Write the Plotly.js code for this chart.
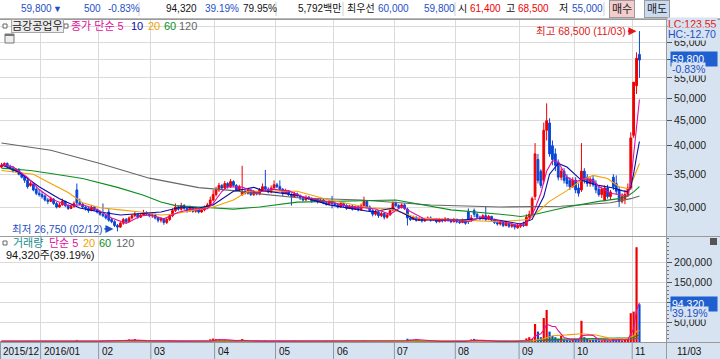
<!DOCTYPE html>
<html><head><meta charset="utf-8">
<script src="https://cdn.plot.ly/plotly-3.0.1.min.js"></script>
<style>html,body{margin:0;padding:0;overflow:hidden;background:#fff}#c{width:720px;height:359px}</style>
</head><body><div id="c"></div>
<script>
// ---------------- DATA (daily, Dec 2015 .. 2016-11-03) ----------------
const open = [
 36200,36600,36800,36300,36000,35600,35800,35000,34600,34000,33200,33400,32600,32000,
 31800,31600,31000,30800,31100,30500,30000,30300,30800,30200,29800,30100,32500,30600,30400,30000,29800,29500,30000,29600,
 29300,29000,28800,29300,28300,28000,27500,27300,27800,28300,28000,28500,28800,29000,28600,28900,29200,29000,
 28800,28900,28500,28200,28400,27900,28300,28800,29500,30000,29700,30200,29800,29500,29900,29400,29700,29300,29600,29900,30300,31000,
 31800,32500,33200,32800,33500,33000,33800,33200,32500,31800,32300,32000,32500,31800,32200,31900,32500,33000,32600,32200,32800,
 33300,33000,32600,32000,32400,31800,31500,31900,31600,31300,31000,31400,31200,30800,31100,30700,31000,30600,30400,30800,
 30500,30300,30000,30500,30200,29800,30100,29700,30000,29600,30200,30800,30000,29500,29000,29300,28800,29100,28600,28900,29500,
 30500,30200,29900,30300,29700,28500,28300,28600,28200,28400,28100,28300,28500,28200,28400,28000,28300,28100,28400,28200,28000,
 28300,28000,27900,28200,29400,28100,29500,29000,28600,28400,28800,28300,28700,28200,27900,27700,27900,27500,27800,27400,27600,27200,
 27400,27600,27500,28600,29000,31500,37500,35500,34000,43000,44500,40000,38500,37000,34500,35500,34500,34000,33000,
 34000,32800,32500,35500,34500,33500,34200,33500,32600,31800,31000,32800,31500,34500,33500,32500,30800,31200,31800,32800,
 42000,53000,61400];
const high = [
 36900,37000,37000,36600,36300,36000,36000,35300,34800,34200,33800,33700,32900,32500,
 32200,31800,31300,31500,31300,30700,30600,31200,30900,30400,30300,30800,33500,31200,30600,30200,30000,30300,30100,29800,
 29500,30500,29000,29800,28500,28200,27700,28000,28500,28500,28700,29000,29300,29100,29100,29600,29400,29200,
 29200,29100,28700,28600,28500,28500,29000,29800,30500,30200,30600,30400,29900,30200,30000,30000,29800,29900,30200,30600,31500,32500,
 33000,33600,33400,33900,33700,34200,34000,33400,33300,36400,32600,32800,32600,32500,32300,32800,33500,35700,32900,33200,34000,
 33600,34000,32800,32700,32500,32000,32200,32100,31800,31500,31700,31600,31400,31300,31200,31200,31300,30800,31000,31600,
 30700,30500,30700,30600,30400,30300,30300,30200,30100,30500,31500,31000,30200,29700,29600,29400,29300,29200,29100,29700,30800,
 30800,30400,30500,30500,29900,28800,28800,28700,28600,28600,28500,28700,28700,28500,28500,28500,28400,28600,28500,28400,28500,
 28400,28200,28400,28300,29800,28900,29800,29200,28800,29000,30000,28900,28800,28400,28100,28100,28000,28000,27900,27800,27700,27700,
 27800,28000,29000,29500,31500,40500,38500,35800,44600,48800,45500,41000,39500,37500,36000,36000,35000,34500,34500,
 34500,33500,40500,36000,35000,34500,34800,34000,33200,33000,33200,33300,32500,35000,34800,33000,32000,32500,33500,42600,
 53900,62000,68500];
const low = [
 36000,36300,36100,35800,35300,35300,34800,34300,33600,32700,33000,32300,31700,31500,
 31200,30800,30400,30700,30300,29800,29900,30200,30000,29600,29700,29900,30200,30200,29800,29500,29200,29400,29400,29100,
 28800,28600,28300,28000,27800,27300,26750,27200,27600,27800,27900,28300,28600,28400,28500,28800,28800,28600,
 28500,28300,27900,27900,27600,27700,28100,28600,29300,29500,29500,29600,29200,29300,29200,29200,29100,29200,29400,29700,30100,30800,
 31500,32200,32500,32500,32700,32800,33000,32300,32300,31600,31800,31800,31600,31600,31700,31700,32300,32400,32000,32000,32700,
 32800,32400,31600,31900,31600,30200,31300,31400,31000,30800,30900,31000,30600,30700,30500,30600,30400,30200,30300,29800,
 30100,29800,29900,30000,29600,29700,29500,29600,29400,29500,30000,29800,29300,28700,28800,28500,28600,28300,28400,28800,29400,
 30000,29700,29800,29600,27500,28100,28200,28000,28100,27900,28000,28200,28000,28100,27800,27900,27900,28000,28000,27800,27900,
 27800,27700,27800,27600,27700,28000,28600,28400,28200,28300,28100,28200,28000,27700,27500,27500,27300,27400,27200,27200,27000,27100,
 27200,27300,27400,28200,28800,31000,33500,32800,33500,41000,38000,36500,35500,34000,34000,33500,33000,32500,32800,
 32000,31500,32200,33500,33000,33000,33000,32000,31500,31300,30800,31200,31000,32500,31800,30000,30500,30400,31500,32500,
 41500,51000,55000];
const close = [
 36500,36800,36300,36000,35500,35800,35000,34500,34000,33000,33500,32500,32000,31800,
 31500,31000,30800,31200,30500,30000,30300,30800,30200,29800,30100,30500,30600,30400,30000,29800,29500,30000,29600,29300,
 29000,28800,28500,28200,28000,27500,27300,27800,28300,28000,28500,28800,29000,28600,28900,29200,29000,28800,
 28900,28500,28200,28400,27900,28300,28800,29500,30000,29700,30200,29800,29500,29900,29400,29700,29300,29600,29900,30300,31000,31800,
 32500,33200,32800,33500,33000,33800,33200,32500,33000,32300,32000,32500,31800,32200,31900,32500,33000,32600,32200,32800,33300,
 33000,32600,32000,32400,31800,31500,31900,31600,31300,31000,31400,31200,30800,31100,30700,31000,30600,30400,30800,30500,
 30300,30000,30500,30200,29800,30100,29700,30000,29600,30200,30800,30000,29500,29000,29300,28800,29100,28600,28900,29500,30500,
 30200,29900,30300,29800,28500,28300,28600,28200,28400,28100,28300,28500,28200,28400,28000,28300,28100,28400,28200,28000,28300,
 28000,27900,28200,27800,28100,28500,29000,28600,28400,28800,28300,28700,28200,27900,27700,27900,27500,27800,27400,27600,27300,27500,
 27600,27500,28600,29000,31200,38500,34000,33200,43000,45000,38500,37500,36500,34500,35500,34000,33500,33000,34000,
 32500,32000,35500,34000,33500,34200,33300,32500,31800,32600,32800,31500,32200,33000,32300,30800,31500,31800,32800,41500,
 53900,60300,59800];
const volume = [
 2100,1800,1500,1700,2000,1300,1900,2200,2500,3000,1600,2000,2400,1800,
 1900,1500,1600,1200,1800,2100,1400,1300,1700,1500,1200,1600,5200,2000,1500,1300,1700,1200,1400,1600,
 1800,2500,1900,4200,1600,2300,3500,1900,2600,2200,6500,5400,7200,3000,2000,1600,1800,1500,
 1400,2000,1700,1500,2200,1600,4200,2800,3000,1800,2100,1500,1300,1600,1200,1500,1400,1700,1900,2400,6800,8500,
 7200,4500,3300,5600,3800,4000,2600,1900,2300,7400,2100,1800,1500,1700,1600,2000,2500,4500,1800,2000,2600,
 1900,3200,1700,1500,1600,2000,3600,1700,1400,1300,1500,1800,1200,1600,1300,1100,1400,3400,1500,1700,
 1800,1200,1500,1300,3600,1400,1200,1600,1100,1500,3900,1800,1400,1700,1200,1300,1500,1100,1400,1900,2600,
 1700,1500,1400,1600,8200,6200,5800,7000,4800,2000,1300,1200,1500,1100,1400,1200,1300,1000,1200,1100,1300,
 1200,1000,1400,1300,1100,6400,7800,5500,3000,1600,4200,1400,1200,1500,1100,1300,1200,1400,1000,1300,1600,1500,
 3000,2500,9000,12000,8000,45000,26000,12000,60000,80000,26000,15000,12000,8000,15000,6000,5000,4000,6000,
 8000,6000,53000,12000,8000,5000,5000,6000,4000,4000,6000,4000,3000,8000,6000,7000,4000,5000,8000,72000,
 76000,237000,94320];

// moving averages (day index, value)
const ma5Idx = [0,4,9,13,18,23,28,33,38,43,48,51,56,61,66,71,73,76,78,83,88,93,99,104,109,114,119,124,129,134,138,141,146,151,156,161,166,171,176,178,180,182,184,186,188,190,192,195,198,201,204,206,210,213,216,217,218,219,220];
const ma5Val = [36600,36220,34460,32560,31000,30220,30320,29640,28500,27780,28760,28900,28380,29260,29760,29760,30520,32260,33000,32960,32080,32620,32360,31460,31040,30660,30160,29920,29720,28980,30080,29360,28320,28280,28200,28000,28660,28160,27640,27520,27600,28300,29800,32000,35500,37300,37000,34500,33800,34200,34000,33000,32000,31800,31600,33700,38300,44100,49700];
const ma10Idx = [0,6,13,20,27,34,41,48,55,62,68,73,80,87,90,102,113,128,135,143,159,167,179,183,187,189,192,195,200,206,211,214,216,217,218,219,220];
const ma10Val = [36600,35300,33000,31200,29860,29300,28900,29150,29300,30000,29850,30300,32300,32900,32400,31700,30300,29300,29850,28230,28230,28500,27700,28300,31500,35000,36800,36200,34000,33200,32800,32400,32200,33000,35100,38000,40800];
const ma20Idx = [0,5,11,17,23,28,34,41,48,55,59,68,73,80,85,102,113,127,134,140,143,149,159,171,182,189,195,200,204,209,213,216,217,218,219,220];
const ma20Val = [35600,35300,35000,33500,32100,30600,29900,29600,29300,28900,29000,29700,30000,31000,32300,32300,31000,29900,29700,29000,28500,28400,28200,28000,28300,30800,32400,34000,34800,34300,33000,32700,33200,34300,35500,36800];
const ma60Idx = [0,10,17,28,40,49,55,60,68,80,89,94,102,136,155,172,179,183,195,206,213,216,218,220];
const ma60Val = [36000,35600,35100,34300,32900,31700,30700,30200,30000,29700,30000,30280,30700,31000,29600,29000,28700,28900,30000,30800,31200,31600,32200,33000];
const ma120Idx = [0,17,34,51,68,80,89,103,124,148,172,193,210,217,220];
const ma120Val = [40500,39160,36800,34350,32860,32400,31900,31300,31000,30280,30000,30100,30600,31200,31600];

const vol5Idx = [0,28,30,34,42,46,50,56,58,62,72,75,78,81,83,86,92,130,140,143,147,152,160,163,166,172,178,181,183,184,186,187,188,190,191,192,194,196,199,200,202,204,206,210,216,217,218,219,220];
const vol5Val = [1800,1500,2300,2200,3600,4800,3500,2000,2500,2200,2500,6000,5400,3500,4500,3000,2300,2000,3000,6300,3500,1300,1300,4500,4000,1300,1400,3000,7000,15300,20600,30200,44600,38600,38600,28200,11200,7200,5800,15400,17400,16600,5600,4200,6000,19200,33000,79600,98000];
const vol20Idx = [0,60,74,80,95,140,145,150,160,166,178,183,187,190,195,200,205,210,215,217,218,219,220];
const vol20Val = [1900,2100,3000,3800,2400,1700,3200,3300,1500,2500,1900,3000,8000,15700,17800,20800,17600,9000,8200,11700,15100,26650,28700];
const vol60Idx = [0,60,90,120,150,178,185,190,200,210,217,220];
const vol60Val = [2000,2100,2900,2300,2200,2100,4200,6600,8300,8900,10500,17200];
const vol120Idx = [0,100,178,190,200,217,220];
const vol120Val = [2200,2300,2300,4300,5200,6300,9600];

// month starts (day index) and their labels
const monthStartIdx = [0,14,34,52,74,95,115,136,157,179,198,218];
const monthLabels = ['2015/12','2016/01','02','03','04','05','06','07','08','09','10','11'];

const priceTicks = [30000,35000,40000,45000,50000,55000,60000,65000,70000];
const volTicks = [50000,100000,150000,200000];

const lowMark = {idx:40, value:26750, date:'02/12'};
const highMark = {idx:220, value:68500, date:'11/03'};
const lastPrice = 59800, lastChange = 500, lastPct = '-0.83%', lastVol = 94320, volPct = '39.19%';
const stockName = '금강공업우';

// ---------------- LAYOUT CONSTANTS ----------------
const W = 720, H = 359;
const PX = x => x / W, PY = y => 1 - y / H;
const PLOT_R = 666, TOPBAR = 18, PRICE_TOP = 19, PRICE_BOT = 236, VOL_BOT = 342;
const DAYPX = 2.9;
const SCALE = 213; // px per ln unit; 30,000 sits at y=207
const yBot = 30000 * Math.exp(-(PRICE_BOT - 207) / SCALE);
const yTop = yBot * Math.exp((PRICE_BOT - PRICE_TOP) / SCALE);
const volTop = (VOL_BOT - PRICE_BOT) / 0.0004;

const RED = '#ee0000', BLUE = '#0a46d8', TXTBLUE = '#1d4fc4', MAG = '#e0109c', NAVY = '#0b0ba8', ORANGE = '#f2a100', GREEN = '#0a8f1c', GRAY = '#666666', TEAL = '#15908a';
const PANEL = '#d7e3f0', GRID = '#dadada', BORDER = '#9a9a9a';
const FONT = "'Liberation Sans', 'Noto Sans CJK KR', sans-serif";

const idx = close.map((_, i) => i);
const fmt = v => v.toLocaleString('en-US');
const bounds = monthStartIdx.slice(1).map(i => i - 0.5);

const traces = [];
traces.push({
  type: 'candlestick', x: idx, open, high, low, close, xaxis: 'x', yaxis: 'y',
  increasing: {line: {color: RED, width: 1}, fillcolor: RED},
  decreasing: {line: {color: BLUE, width: 1}, fillcolor: BLUE},
  whiskerwidth: 0, hoverinfo: 'skip'
});
[[ma120Idx, ma120Val, GRAY], [ma60Idx, ma60Val, GREEN], [ma20Idx, ma20Val, ORANGE], [ma10Idx, ma10Val, NAVY], [ma5Idx, ma5Val, MAG]]
  .forEach(([x, y, c]) => traces.push({type: 'scatter', mode: 'lines', x, y, xaxis: 'x', yaxis: 'y', line: {color: c, width: 1.1}, hoverinfo: 'skip'}));
traces.push({
  type: 'bar', x: idx, y: volume, xaxis: 'x2', yaxis: 'y2', width: 0.75,
  marker: {color: idx.map(i => close[i] >= open[i] ? RED : BLUE), line: {width: 0}}, hoverinfo: 'skip'
});
[[vol120Idx, vol120Val, GRAY], [vol60Idx, vol60Val, GREEN], [vol20Idx, vol20Val, ORANGE], [vol5Idx, vol5Val, MAG]]
  .forEach(([x, y, c]) => traces.push({type: 'scatter', mode: 'lines', x, y, xaxis: 'x2', yaxis: 'y2', line: {color: c, width: 1.1}, hoverinfo: 'skip'}));

const xr = [-0.5, -0.5 + PLOT_R / DAYPX];
const xBase = {range: xr, tickmode: 'array', tickvals: bounds, showticklabels: false, ticks: '', showgrid: true, gridcolor: GRID, gridwidth: 1, zeroline: false, showline: false, fixedrange: true};

function T(x, y, text, color, size, extra) {
  return Object.assign({xref: 'paper', yref: 'paper', x: PX(x), y: PY(y), text, showarrow: false, xanchor: 'left', yanchor: 'middle',
    font: {family: FONT, size: size || 11, color: color || '#000'}, borderpad: 0}, extra || {});
}

const ann = [];
// top quote bar
[
  [20, fmt(lastPrice), TXTBLUE], [83, fmt(lastChange), TXTBLUE], [107, lastPct, TXTBLUE],
  [165, fmt(lastVol), '#111'], [204, volPct, TXTBLUE], [242, '79.95%', '#111'], [297, '5,792백만', '#111'],
  [346, '최우선', '#111'], [377, '60,000', TXTBLUE], [423, fmt(lastPrice), TXTBLUE],
  [457, '시', '#111'], [469, '61,400', RED], [505, '고', '#111'], [517, fmt(highMark.value), RED],
  [558, '저', '#111'], [571, '55,000', TXTBLUE]
].forEach(([x, t, c]) => ann.push(T(x, 9, t, c, 10)));
ann.push(T(52, 9, '▼', TXTBLUE, 9));
ann.push(T(622, 9, '매수', '#222', 11, {xanchor: 'center', bgcolor: '#f4cccc', bordercolor: '#9a9a9a', borderwidth: 1, borderpad: 2}));
ann.push(T(657, 9, '매도', '#222', 11, {xanchor: 'center', bgcolor: '#cadbf1', bordercolor: '#9a9a9a', borderwidth: 1, borderpad: 2}));

// price legend
ann.push(T(11, 26, stockName, '#222', 11, {bgcolor: '#ececec', bordercolor: '#a8a8a8', borderwidth: 1, borderpad: 0}));
[[70, '종가 단순 5', MAG], [130, '10', NAVY], [147, '20', ORANGE], [163, '60', GREEN], [178, '120', GRAY]]
  .forEach(([x, t, c]) => ann.push(T(x, 26, t, c, 11)));
// volume legend
[[12, '거래량', TEAL], [48, '단순 5', MAG], [82, '20', ORANGE], [98, '60', GREEN], [115, '120', GRAY]]
  .forEach(([x, t, c]) => ann.push(T(x, 243, t, c, 11)));
ann.push(T(5, 255, fmt(lastVol) + '주(' + volPct + ')', '#111', 11));

// right panel labels (they sit over the axis labels, as in the source chart)
ann.push(T(667, 24, 'LC:123.55', '#e01818', 10.5, {bgcolor: PANEL}));
ann.push(T(667, 34, 'HC:-12.70', TXTBLUE, 10.5, {bgcolor: PANEL}));
ann.push(T(670, 59, fmt(lastPrice), '#ffffff', 10.5, {bgcolor: '#1f5fd0', borderpad: 1, width: 44, align: 'left'}));
ann.push(T(671, 69, lastPct, TXTBLUE, 10.5, {bgcolor: PANEL}));
ann.push(T(670, 304, fmt(lastVol), '#ffffff', 10.5, {bgcolor: '#1f5fd0', borderpad: 1, width: 44, align: 'left'}));
ann.push(T(671, 313, volPct, TXTBLUE, 10.5, {bgcolor: PANEL}));

// date bar labels
monthStartIdx.forEach((m, k) => ann.push({xref: 'x2', yref: 'paper', x: m - 0.5, y: PY(351), text: monthLabels[k], showarrow: false,
  xanchor: 'left', yanchor: 'middle', xshift: 1, font: {family: FONT, size: 10, color: '#111'}}));
ann.push(T(676, 351, highMark.date, '#111', 10));

// low / high markers
ann.push({xref: 'x', yref: 'y', x: lowMark.idx, y: Math.log10(lowMark.value * 1.012), text: '최저 ' + fmt(lowMark.value) + ' (' + lowMark.date + ')',
  showarrow: true, ax: -60, ay: 0, arrowhead: 2, arrowsize: 1, arrowwidth: 1.6, arrowcolor: TXTBLUE, standoff: 4,
  font: {family: FONT, size: 10.5, color: TXTBLUE}});
ann.push({xref: 'x', yref: 'y', x: highMark.idx, y: Math.log10(highMark.value), text: '최고 ' + fmt(highMark.value) + ' (' + highMark.date + ')',
  showarrow: true, ax: -58, ay: 0, arrowhead: 2, arrowsize: 1, arrowwidth: 1.6, arrowcolor: '#e01818', standoff: 3,
  font: {family: FONT, size: 10.5, color: '#e01818'}});

const shapes = [];
const R = (x0, y0, x1, y1, fill, line, layer) => shapes.push({type: 'rect', xref: 'paper', yref: 'paper', x0: PX(x0), x1: PX(x1), y0: PY(y1), y1: PY(y0),
  fillcolor: fill, line: line || {width: 0}, layer: layer || 'below'});
const L = (x0, y0, x1, y1, color, layer) => shapes.push({type: 'line', xref: 'paper', yref: 'paper', x0: PX(x0), x1: PX(x1), y0: PY(y0), y1: PY(y1),
  line: {color, width: 1}, layer: layer || 'above'});
R(0, 0, W, TOPBAR, '#ffffff');
R(PLOT_R, PRICE_TOP, W, VOL_BOT, PANEL);
R(0, VOL_BOT, W, H, PANEL);
L(0, TOPBAR + 0.5, W, TOPBAR + 0.5, '#b8b8b8');
[139, 276, 343, 455, 604].forEach(x => L(x, 2, x, 16, '#d0d0d0'));
L(0, PRICE_TOP + 0.5, W, PRICE_TOP + 0.5, BORDER);
L(0, PRICE_BOT + 0.5, W, PRICE_BOT + 0.5, BORDER);
L(0, VOL_BOT + 0.5, W, VOL_BOT + 0.5, BORDER);
L(PLOT_R + 0.5, PRICE_TOP, PLOT_R + 0.5, H, BORDER);
// date bar separators at month boundaries
shapes.push({type: 'line', xref: 'paper', yref: 'paper', x0: PX(0.5), x1: PX(0.5), y0: PY(H), y1: PY(VOL_BOT), line: {color: '#8c98a8', width: 1}});
bounds.forEach(b => shapes.push({type: 'line', xref: 'x2', yref: 'paper', x0: b, x1: b, y0: PY(H), y1: PY(VOL_BOT), line: {color: '#8c98a8', width: 1}}));
// legend squares and icons
R(3, 24, 7, 28, '#ffffff', {color: '#666', width: 1}, 'above');
R(64, 24, 68, 28, '#ffffff', {color: '#666', width: 1}, 'above');
R(3, 241, 7, 245, '#ffffff', {color: '#666', width: 1}, 'above');
R(5, 34, 14, 43, '#eeeeee', {color: '#777', width: 1}, 'above');
R(5, 34, 14, 36, '#777777', {width: 0}, 'above');
R(710, 238, 717, 245, '#555555', {width: 0}, 'above');

const layout = {
  width: W, height: H, margin: {l: 0, r: 0, t: 0, b: 0}, paper_bgcolor: '#ffffff', plot_bgcolor: '#ffffff',
  showlegend: false, dragmode: false, boxgap: 0.12,
  xaxis: Object.assign({domain: [0, PX(PLOT_R)], anchor: 'y', rangeslider: {visible: false}}, xBase),
  xaxis2: Object.assign({domain: [0, PX(PLOT_R)], anchor: 'y2'}, xBase),
  yaxis: {domain: [PY(PRICE_BOT), PY(PRICE_TOP)], type: 'log', range: [Math.log10(yBot), Math.log10(yTop)], side: 'right', anchor: 'x',
    tickmode: 'array', tickvals: priceTicks, ticktext: priceTicks.map(v => (v === 70000 || v === 60000) ? '' : fmt(v)),
    ticks: 'outside', ticklen: 5, tickcolor: '#555', showgrid: true, gridcolor: GRID, zeroline: false, showline: false,
    tickfont: {family: FONT, size: 10.5, color: '#222'}, fixedrange: true},
  yaxis2: {domain: [PY(VOL_BOT), PY(PRICE_BOT)], range: [0, volTop], side: 'right', anchor: 'x2',
    tickmode: 'array', tickvals: volTicks, ticktext: volTicks.map(v => v === 100000 ? '' : fmt(v)),
    ticks: 'outside', ticklen: 5, tickcolor: '#555', showgrid: true, gridcolor: GRID, zeroline: false, showline: false,
    minor: {ticks: 'outside', ticklen: 2, tickcolor: '#777', dtick: 10000, showgrid: false},
    tickfont: {family: FONT, size: 10.5, color: '#222'}, fixedrange: true},
  annotations: ann, shapes
};
Plotly.newPlot('c', traces, layout, {staticPlot: true, displayModeBar: false});
</script></body></html>
